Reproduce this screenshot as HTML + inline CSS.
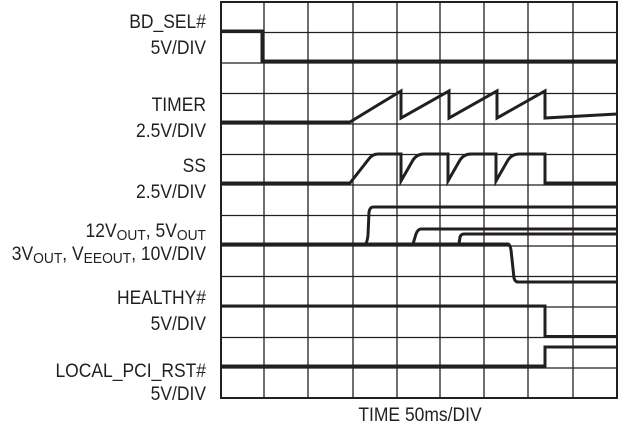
<!DOCTYPE html>
<html><head><meta charset="utf-8"><style>
html,body{margin:0;padding:0;background:#fff;}
svg text{font-family:"Liberation Sans",sans-serif;font-size:19px;fill:#231f20;}
</style></head><body>
<svg width="618" height="428" viewBox="0 0 618 428" xmlns="http://www.w3.org/2000/svg">
<g stroke="#231f20" stroke-width="1.3" fill="none">
<rect x="221" y="2" width="396" height="396" stroke-width="2"/>
<path d="M264 2V398M308 2V398M353 2V398M397 2V398M440 2V398M484 2V398M528 2V398M573 2V398"/>
<path d="M221 32.5H617M221 63H617M221 93.5H617M221 124H617M221 154.5H617M221 185H617M221 215.5H617M221 246H617M221 276.5H617M221 307H617M221 337.5H617M221 368H617"/>
</g>
<g stroke="#231f20" stroke-width="3" fill="none" stroke-linejoin="miter">
<path d="M221 31H262V61H617"/>
<path d="M221 122H350L401 91V118L449 91V118L497 91V118L545 91V118L617 114"/>
<path d="M221 183H350L368 160Q372 154 378 154H401V181L413 160Q417 154 424 154H448V181L460 160Q464 154 471 154H496V181L508 160Q512 154 519 154H545V183H617"/>
<path d="M221 244H365Q367 244 368 235L369 212Q370 207 373 207H617"/>
<path d="M365 244H413L416 234Q418 229 421 229H617"/>
<path d="M413 244H459L460 237Q461 234 464 234H617"/>
<path d="M459 244H508Q510 244 511 250L514 278Q515 282 518 282H617"/>
<path d="M221 306H545V336.5H617"/>
<path d="M221 366H545V347H617"/>
</g>
<g text-anchor="end" transform="translate(206,0) scale(0.92,1)">
<text x="0" y="28">BD_SEL#</text>
<text x="0" y="54">5V/DIV</text>
<text x="0" y="111">TIMER</text>
<text x="0" y="137">2.5V/DIV</text>
<text x="0" y="172">SS</text>
<text x="0" y="198">2.5V/DIV</text>
<text x="0" y="237">12V<tspan font-size="15" dy="3">OUT</tspan><tspan dy="-3">, 5V</tspan><tspan font-size="15" dy="3">OUT</tspan></text>
<text x="0" y="260">3V<tspan font-size="15" dy="3">OUT</tspan><tspan dy="-3">, V</tspan><tspan font-size="15" dy="3">EEOUT</tspan><tspan dy="-3">, 10V/DIV</tspan></text>
<text x="0" y="304">HEALTHY#</text>
<text x="0" y="330">5V/DIV</text>
<text x="0" y="377">LOCAL_PCI_RST#</text>
<text x="0" y="400">5V/DIV</text>
</g>
<text x="0" y="421" text-anchor="middle" transform="translate(420,0) scale(0.92,1)">TIME 50ms/DIV</text>
</svg>
</body></html>
